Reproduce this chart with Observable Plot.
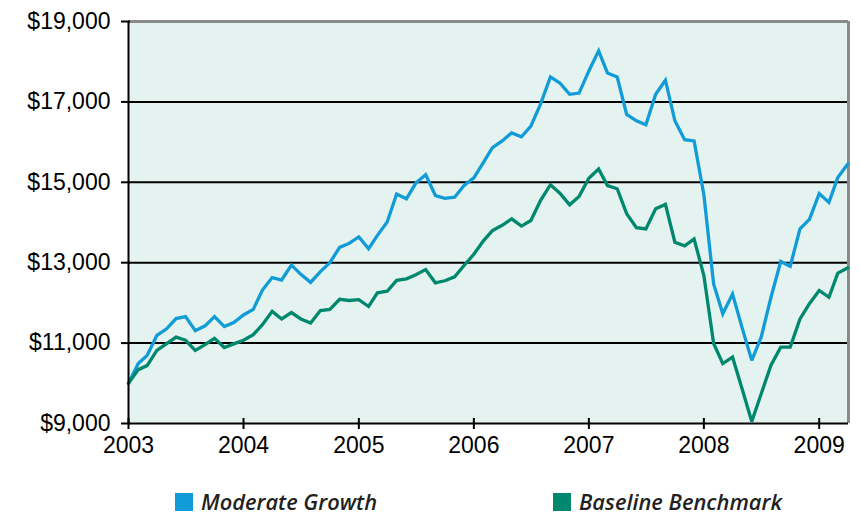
<!DOCTYPE html>
<html>
<head>
<meta charset="utf-8">
<script src="https://cdn.jsdelivr.net/npm/d3@7"></script>
<script src="https://cdn.jsdelivr.net/npm/@observablehq/plot@0.6"></script>
<style>
  html, body { margin: 0; padding: 0; background: #fff; }
  #chart { position: relative; width: 860px; }
  #chart svg { display: block; }
</style>
</head>
<body>
<div id="chart"></div>
<script>
// ---- data (monthly, Jan 2003 – Apr 2009) ----
const seriesNames = ["Moderate Growth", "Baseline Benchmark"];
const seriesColors = ["#119cd8", "#00886f"];
const moderateGrowth = [
  10000, 10490, 10690, 11190, 11350, 11610, 11660, 11310, 11430, 11660, 11410, 11510,
  11700, 11840, 12320, 12630, 12570, 12940, 12710, 12510, 12780, 13000, 13380, 13480,
  13640, 13350, 13680, 14010, 14710, 14590, 14980, 15190, 14670, 14600, 14630, 14920,
  15110, 15500, 15860, 16030, 16230, 16130, 16400, 16950, 17620, 17470, 17190, 17220,
  17770, 18270, 17720, 17620, 16690, 16530, 16430, 17190, 17540, 16530, 16060, 16030,
  14690, 12470, 11730, 12220, 11390, 10570, 11150, 12140, 13030, 12910, 13840, 14080,
  14720, 14500, 15120, 15450
];
const baselineBenchmark = [
  10000, 10340, 10440, 10820, 10980, 11150, 11070, 10820, 10960, 11120, 10890, 10980,
  11070, 11210, 11460, 11790, 11600, 11760, 11600, 11500, 11810, 11840, 12090, 12060,
  12080, 11910, 12250, 12290, 12560, 12600, 12700, 12830, 12500, 12550, 12650, 12930,
  13210, 13550, 13800, 13930, 14090, 13910, 14050, 14550, 14940, 14730, 14440, 14650,
  15100, 15330, 14920, 14840, 14220, 13870, 13840, 14340, 14450, 13510, 13420, 13590,
  12680, 10990, 10490, 10650, 9870, 9050, 9740, 10450, 10900, 10900, 11600, 11980,
  12310, 12140, 12740, 12870
];
const months = moderateGrowth.map((_, i) => new Date(Date.UTC(2003, i, 1)));
const yearTicks = [2003, 2004, 2005, 2006, 2007, 2008, 2009].map(y => new Date(Date.UTC(y, 0, 1)));
const valueTicks = [9000, 11000, 13000, 15000, 17000, 19000];
const gridValues = [11000, 13000, 15000, 17000];

const xMin = new Date(Date.UTC(2003, 0, 1));
const xMax = new Date(Date.UTC(2009, 3, 4));

const rows = [];
months.forEach((m, i) => {
  rows.push({date: m, value: moderateGrowth[i], series: seriesNames[0]});
  rows.push({date: m, value: baselineBenchmark[i], series: seriesNames[1]});
});

const fmt = d3.format(",");

const plot = Plot.plot({
  width: 860,
  height: 464,
  marginLeft: 128,
  marginRight: 12,
  marginTop: 21,
  marginBottom: 41,
  style: {fontFamily: "'Liberation Sans', Arial, sans-serif", fontSize: "23px", color: "#000", background: "#fff"},
  x: {type: "utc", domain: [xMin, xMax], label: null},
  y: {domain: [9000, 19000], label: null},
  color: {domain: seriesNames, range: seriesColors},
  marks: [
    Plot.frame({fill: "#e4f3ef", stroke: null}),
    Plot.ruleY(gridValues, {stroke: "#000", strokeWidth: 2}),
    Plot.ruleY([19000], {stroke: "#8a8a8a", strokeWidth: 3}),
    Plot.ruleX([xMax], {stroke: "#8a8a8a", strokeWidth: 3}),
    Plot.lineY(rows, {x: "date", y: "value", z: "series", stroke: "series", strokeWidth: 3.3, strokeLinejoin: "miter", strokeMiterlimit: 3}),
    Plot.ruleX([xMin], {stroke: "#000", strokeWidth: 2}),
    Plot.ruleY([9000], {stroke: "#000", strokeWidth: 2}),
    Plot.ruleY(valueTicks, {y: d => d, x1: xMin, x2: xMin, insetLeft: -7, insetRight: -2, stroke: "#000", strokeWidth: 2}),
    Plot.ruleX(yearTicks, {x: d => d, y1: 9000, y2: 9000, insetTop: -5, insetBottom: -6, stroke: "#000", strokeWidth: 2}),
    Plot.axisY(valueTicks, {tickSize: 0, tickPadding: 18, tickFormat: d => "$" + fmt(d), fontSize: 23, label: null}),
    Plot.axisX(yearTicks, {tickSize: 0, tickPadding: 13, tickFormat: d => String(d.getUTCFullYear()), fontSize: 23, label: null})
  ]
});
document.getElementById("chart").appendChild(plot);

// ---- legend (below the SVG) ----
const legend = d3.select("#chart").append("svg")
  .attr("width", 860).attr("height", 53);
const legendX = [175, 553];
const legendTextLen = [176, 203];
seriesNames.forEach((name, i) => {
  legend.append("rect")
    .attr("x", legendX[i]).attr("y", 29).attr("width", 18).attr("height", 18)
    .attr("fill", seriesColors[i]);
  legend.append("text")
    .attr("x", legendX[i] + 26).attr("y", 46)
    .attr("font-family", "'Open Sans', sans-serif")
    .attr("font-style", "italic").attr("font-weight", 600)
    .attr("font-size", 22)
    .attr("fill", "#231f20")
    .attr("textLength", legendTextLen[i])
    .attr("lengthAdjust", "spacingAndGlyphs")
    .text(name);
});
</script>
</body>
</html>
